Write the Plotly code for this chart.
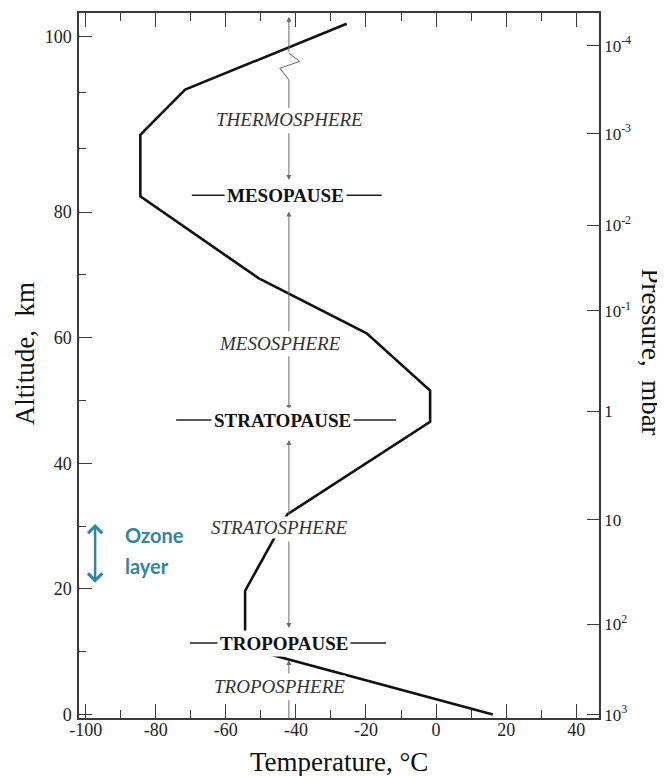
import plotly.graph_objects as go

# ---- data -----------------------------------------------------------------
# Temperature profile (°C) vs altitude (km). The altitude axis is broken near
# the top (zig-zag on the guide line); values above it are on that drawn scale.
temp_c = [16.2, -54.5, -54.5, -42.4, -1.7, -1.7, -19.8, -50.7, -84.4, -84.4, -71.6, -25.5]
alt_km = [0.0, 10.65, 19.7, 31.9, 46.6, 51.6, 60.7, 69.5, 82.5, 92.3, 99.5, 110.0]

x_ticks = [-100, -80, -60, -40, -20, 0, 20, 40]
x_ticktext = ["-100", "-80", "-60", "-40", "-20", "0", "20", "40"]
x_minor = [-90, -70, -50, -30, -10, 10, 30]
alt_tickvals = [0, 20, 40, 60, 80, 107.9]
alt_ticktext = ["0", "20", "40", "60", "80", "100"]
alt_minor = [10, 30, 50, 70, 90.1, 99.1]

pressure_alt = [0, 14.4, 31.0, 48.3, 64.3, 77.9, 92.5, 106.5]
pressure_text = ["10<sup>3</sup>", "10<sup>2</sup>", "10", "1", "10<sup>-1</sup>",
                 "10<sup>-2</sup>", "10<sup>-3</sup>", "10<sup>-4</sup>"]

layer_names = ["THERMOSPHERE", "MESOSPHERE", "STRATOSPHERE", "TROPOSPHERE"]
layer_alt = [94.8, 59.1, 29.8, 4.55]
layer_temp = [-41.9, -44.5, -44.6, -44.8]

pause_names = ["MESOPAUSE", "STRATOPAUSE", "TROPOPAUSE"]
pause_alt = [82.7, 46.9, 11.4]
pause_temp = [-43.0, -43.9, -43.5]
pause_bar_left = [-69.7, -74.2, -70.2]
pause_bar_right = [-15.5, -11.4, -14.3]

guide_temp = -42.0
guide_tail = [92.8, 60.8, 57.3, 31.6, 27.8, 6.3, 105.3]
guide_head = [85.1, 80.1, 48.5, 43.7, 13.8, 8.7, 111.1]
guide_break_alt = [96.6, 101.05, 102.9, 104.0, 105.3]
guide_break_dt = [0.0, 0.0, -2.6, 3.1, 0.0]
guide_bottom = [2.3, -0.6]

ozone_temp = -97.3
ozone_range = [21.0, 30.6]
ozone_text = ["Ozone", "layer"]
ozone_text_alt = [28.6, 23.6]
ozone_text_temp = -89.3

X_RANGE = [-101.9, 46.5]
Y_RANGE = [-0.54, 111.7]

SERIF = "Liberation Serif, Times New Roman, serif"
AXIS_COLOR = "#3a3a3a"
GUIDE_COLOR = "#6a6a6a"
TEAL = "#31859C"

fig = go.Figure()

# guide line with axis-break zig-zag
fig.add_trace(go.Scatter(
    x=[guide_temp + d for d in guide_break_dt], y=guide_break_alt,
    mode="lines", line=dict(color=GUIDE_COLOR, width=1), hoverinfo="skip", showlegend=False))
fig.add_trace(go.Scatter(
    x=[guide_temp, guide_temp], y=guide_bottom,
    mode="lines", line=dict(color=GUIDE_COLOR, width=1), hoverinfo="skip", showlegend=False))

# temperature profile
fig.add_trace(go.Scatter(
    x=temp_c, y=alt_km, mode="lines",
    line=dict(color="#111111", width=2.6), showlegend=False))

# dummy trace for the pressure axis
fig.add_trace(go.Scatter(x=[None], y=[None], yaxis="y2", showlegend=False))

annotations = []
shapes = []

for t, h in zip(guide_tail, guide_head):
    annotations.append(dict(
        x=guide_temp, y=h, ax=guide_temp, ay=t, xref="x", yref="y", axref="x", ayref="y",
        text="", showarrow=True, arrowhead=2, arrowsize=1, arrowwidth=1,
        arrowcolor=GUIDE_COLOR, standoff=0, startstandoff=0))

for name, a, lt, rt, tx in zip(pause_names, pause_alt, pause_bar_left, pause_bar_right, pause_temp):
    shapes.append(dict(type="line", xref="x", yref="y", x0=lt, x1=rt, y0=a, y1=a,
                       line=dict(color="#222222", width=1.5)))
    annotations.append(dict(
        x=tx, y=a, xref="x", yref="y", text="<b>" + name + "</b>", showarrow=False,
        font=dict(family=SERIF, size=19, color="#111111"), bgcolor="white", borderpad=2))

for name, a, tx in zip(layer_names, layer_alt, layer_temp):
    annotations.append(dict(
        x=tx, y=a, xref="x", yref="y", text="<i>" + name + "</i>", showarrow=False,
        font=dict(family=SERIF, size=19, color="#333333"), bgcolor="white", borderpad=0))

# ozone layer marker
annotations.append(dict(
    x=ozone_temp, y=ozone_range[0], ax=ozone_temp, ay=ozone_range[1],
    xref="x", yref="y", axref="x", ayref="y", text="", showarrow=True,
    arrowside="end+start", arrowhead=4, startarrowhead=4, arrowsize=1.1, startarrowsize=1.1,
    arrowwidth=2.5, arrowcolor=TEAL, standoff=0, startstandoff=0))
for txt, a in zip(ozone_text, ozone_text_alt):
    annotations.append(dict(
        x=ozone_text_temp, y=a, xref="x", yref="y", text="<b>" + txt + "</b>",
        showarrow=False, xanchor="left",
        font=dict(family="Lato, Open Sans, sans-serif", size=20, color=TEAL)))

# axis titles
TITLE_FONT = dict(family=SERIF, size=27, color="#111111")
annotations.append(dict(
    x=0.5, y=0, xref="paper", yref="paper", yshift=-44, xanchor="center", yanchor="middle",
    text="Temperature, °C", showarrow=False, font=TITLE_FONT))
annotations.append(dict(
    x=0, y=0.516, xref="paper", yref="paper", xshift=-54, xanchor="center", yanchor="middle",
    text="Altitude,  km", textangle=-90, showarrow=False, font=TITLE_FONT))
annotations.append(dict(
    x=1, y=0.52, xref="paper", yref="paper", xshift=52, xanchor="center", yanchor="middle",
    text="Pressure,  mbar", textangle=90, showarrow=False, font=TITLE_FONT))

tickfont = dict(family=SERIF, size=18, color="#222222")

# the page body has an 8px default margin; margins compensate so the plot area
# sits where the reference frame is (x 79-599, y 13-718)
fig.update_layout(
    width=665, height=776,
    margin=dict(l=71, r=74, t=5, b=66),
    paper_bgcolor="white", plot_bgcolor="white",
    showlegend=False,
    xaxis=dict(
        range=X_RANGE, tickmode="array", tickvals=x_ticks, ticktext=x_ticktext,
        ticks="inside", ticklen=14,
        tickwidth=1.2, tickcolor=AXIS_COLOR, showline=True, linecolor=AXIS_COLOR,
        linewidth=1.5, mirror="ticks", showgrid=False, zeroline=False, tickfont=tickfont,
        automargin=False, ticklabelstandoff=-5,
        minor=dict(tickmode="array", tickvals=x_minor, ticks="inside", ticklen=8,
                   tickcolor=AXIS_COLOR, tickwidth=1.2, showgrid=False)),
    yaxis=dict(
        range=Y_RANGE, tickmode="array", tickvals=alt_tickvals, ticktext=alt_ticktext,
        ticks="inside", ticklen=13, tickwidth=1.2, tickcolor=AXIS_COLOR, showline=True,
        linecolor=AXIS_COLOR, linewidth=1.5, showgrid=False, zeroline=False,
        tickfont=tickfont, ticklabelstandoff=2, automargin=False,
        minor=dict(tickmode="array", tickvals=alt_minor, ticks="inside", ticklen=7,
                   tickcolor=AXIS_COLOR, tickwidth=1.2, showgrid=False)),
    yaxis2=dict(
        range=Y_RANGE, overlaying="y", side="right", anchor="x",
        tickmode="array", tickvals=pressure_alt, ticktext=pressure_text,
        ticks="inside", ticklen=12, tickwidth=1.2, tickcolor=AXIS_COLOR, showline=True,
        linecolor=AXIS_COLOR, linewidth=1.5, showgrid=False, zeroline=False,
        automargin=False,
        tickfont=dict(family=SERIF, size=17, color="#222222")),
    annotations=annotations,
    shapes=shapes,
)

fig.write_html("out.html")
